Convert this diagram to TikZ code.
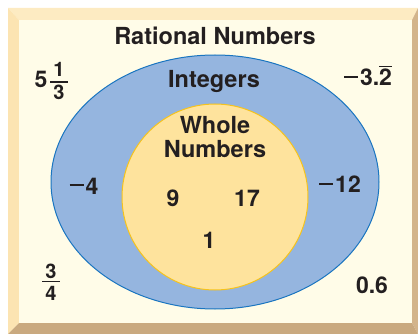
\documentclass[tikz,border=0pt]{standalone}
\usepackage{fontspec}
\setmainfont{TeX Gyre Heros}
\definecolor{ink}{HTML}{231F20}
\definecolor{paper}{HTML}{FFFCE8}
\definecolor{bevtop}{HTML}{FDEBC2}
\definecolor{bevleft}{HTML}{FCE4B2}
\definecolor{bevright}{HTML}{D3B48B}
\definecolor{bevbot}{HTML}{C9A97F}
\definecolor{intfill}{HTML}{95B5DF}
\definecolor{intline}{HTML}{1A75C0}
\definecolor{wholefill}{HTML}{FEE39D}
\definecolor{wholeline}{HTML}{F6C31C}
\newcommand\ovl[1]{\leavevmode\vbox{\hrule height 1.5pt\kern 2.2pt\hbox{#1}}}
\newcommand\mns{\rule[7.8pt]{14pt}{2.2pt}\kern2pt}
\begin{document}
\begin{tikzpicture}[x=1pt,y=-1pt,
  lbl/.style={font=\fontsize{23.5}{24}\selectfont\bfseries, text=ink, inner sep=0pt},
  num/.style={font=\fontsize{23}{24}\selectfont\bfseries, text=ink, inner sep=0pt, anchor=base},
  fnum/.style={font=\fontsize{20}{22}\selectfont\bfseries, text=ink, inner sep=0pt, anchor=base},
  fbar/.style={draw=ink, line width=1.5pt}]
\useasboundingbox (0,0) rectangle (418,334);
% frame
\fill[bevtop] (8,8) -- (418,8) -- (412,20) -- (19,20) -- cycle;
\fill[bevleft] (8,8) -- (19,20) -- (19,323) -- (8,334) -- cycle;
\fill[bevright] (418,8) -- (418,334) -- (412,323) -- (412,20) -- cycle;
\fill[bevbot] (8,334) -- (418,334) -- (412,323) -- (19,323) -- cycle;
\fill[paper] (19,20) rectangle (412,323);
% sets
\draw[fill=intfill, draw=intline, line width=1pt] (215,182) ellipse [x radius=164, y radius=127];
\draw[fill=wholefill, draw=wholeline, line width=1pt] (215,197) circle [radius=93];
% titles
\node[lbl, anchor=base] (rat) at (215,45) {Rational Numbers};
\node[lbl, anchor=base] (int) at (214,88) {Integers};
\node[lbl, align=center, anchor=center] (whole) at (215,137.5) {Whole\\Numbers};
% members
\node[num] (n9) at (173,207) {9};
\node[num] (n17) at (247,207) {17};
\node[num] (n1) at (209,248) {1};
\node[num] (m4) at (84,194) {\mns4};
\node[num] (m12) at (340,193) {\mns12};
\node[num] (m32) at (368,86) {\mns3.\ovl{2}};
\node[num] (z6) at (372,293) {0.6};
% 5 1/3
\node[num] (five) at (41,88) {5};
\node[fnum] (one) at (59,77) {1};
\node[fnum] (three) at (59,100) {3};
\coordinate (b1a) at (50,82);
\coordinate (b1b) at (68,82);
\draw[fbar] (b1a) -- (b1b);
% 3/4
\node[fnum] (tre) at (51,278) {3};
\node[fnum] (four) at (51,300) {4};
\coordinate (b2a) at (42,281.5);
\coordinate (b2b) at (60,281.5);
\draw[fbar] (b2a) -- (b2b);
\end{tikzpicture}
\end{document}
